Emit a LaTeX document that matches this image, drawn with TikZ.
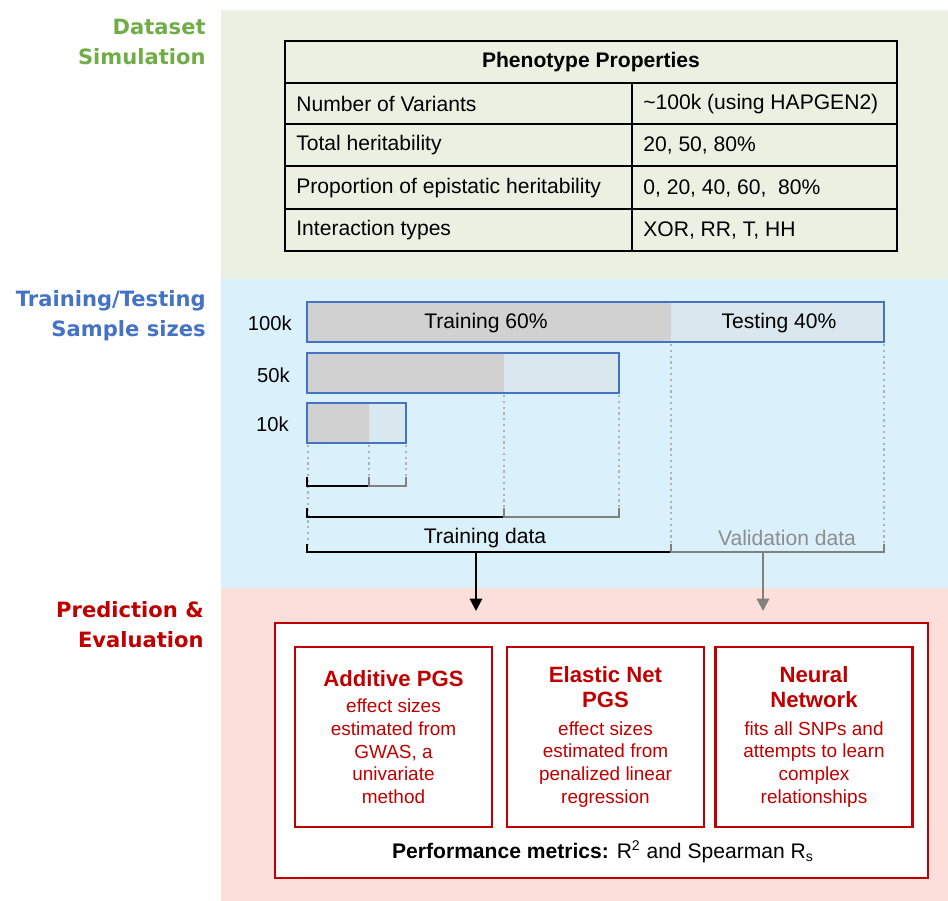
\documentclass[tikz,border=0pt]{standalone}
\usepackage{fontspec}
\setmainfont{Liberation Sans}
\newfontfamily\headfont{DejaVu Sans}
\usepackage{xcolor}
\usetikzlibrary{arrows.meta, positioning, calc}
\definecolor{simgreen}{HTML}{70AD47}
\definecolor{simbg}{HTML}{EBF1E2}
\definecolor{splitblue}{HTML}{4472C4}
\definecolor{splitbg}{HTML}{DAF1FB}
\definecolor{predred}{HTML}{C00000}
\definecolor{predbg}{HTML}{FCDEDA}
\definecolor{trainfill}{HTML}{D1D1D1}
\definecolor{testfill}{HTML}{D9E7EE}
\definecolor{valgray}{HTML}{808080}

\begin{document}
\begin{tikzpicture}[
            x=0.02cm, y=-0.02cm,
            heading/.style={anchor=east, inner sep=0pt, align=right, font=\headfont\bfseries\fontsize{12}{17}\selectfont},
            cell/.style={anchor=west, inner sep=0pt, font=\fontsize{12}{14}\selectfont},
            sizelabel/.style={anchor=east, inner sep=0pt, font=\fontsize{11.5}{14}\selectfont},
            barlabel/.style={font=\fontsize{12}{14}\selectfont},
            sizebar/.style={draw=splitblue, line width=1.6pt},
            guide/.style={draw=gray!60, dotted, line width=1.3pt},
            trainbrace/.style={draw=black, line width=1.2pt},
            valbrace/.style={draw=valgray, line width=1.2pt},
            method/.style={draw=predred, line width=1.4pt, fill=white, minimum width=3.94cm, minimum height=3.6cm, align=center, text=predred, font=\fontsize{10.8}{13}\selectfont},
            arrow/.style={-{Triangle[length=7pt, width=7pt]}, line width=1.2pt}
        ]
\useasboundingbox (0,0) rectangle (948,901);

% Panels
            \fill[simbg] (221,10) rectangle (948,279);
            \fill[splitbg] (221,279) rectangle (948,588);
            \fill[predbg] (221,588) rectangle (948,901);

% Headings
            \node[heading, text=simgreen] (simhead) at (206,42) {Dataset\\Simulation};
            \node[heading, text=splitblue] (splithead) at (206,316) {Training/Testing\\Sample sizes};
            \node[heading, text=predred] (predhead) at (204,625) {Prediction \&\\Evaluation};

% Phenotype table
            \draw[line width=1.2pt] (285,41) rectangle (897,251);
            \foreach \y in {83,124,166,209}
                \draw[line width=0.9pt] (285,\y) -- (897,\y);
            \draw[line width=0.9pt] (632,83) -- (632,251);
            \node[font=\bfseries\fontsize{12}{14}\selectfont] (phenohead) at (591,62) {Phenotype Properties};
            \node[cell] (nvar) at (296,104) {Number of Variants};
            \node[cell] (nvarval) at (643,104) {\textasciitilde100k (using HAPGEN2)};
            \node[cell] (totherit) at (296,145.5) {Total heritability};
            \node[cell] (totheritval) at (643,145.5) {20, 50, 80\%};
            \node[cell] (epiherit) at (296,188) {Proportion of epistatic heritability};
            \node[cell] (epiheritval) at (643,188) {0, 20, 40, 60,\ \ 80\%};
            \node[cell] (itypes) at (296,230.5) {Interaction types};
            \node[cell] (itypesval) at (643,230.5) {XOR, RR, T, HH};

% Sample size bars
            \foreach \top/\split/\right in {302/671/884, 353/504/619, 403/369/406} {
                \fill[trainfill] (307,\top) rectangle (\split,\top+40);
                \fill[testfill] (\split,\top) rectangle (\right,\top+40);
                \draw[sizebar] (307,\top) rectangle (\right,\top+40);
            }
            \node[barlabel] (train100) at (486,323) {Training 60\%};
            \node[barlabel] (test100) at (779,323) {Testing 40\%};
            \node[sizelabel] (lab100) at (292,323) {100k};
            \node[sizelabel] (lab50) at (290,375) {50k};
            \node[sizelabel] (lab10) at (289,424) {10k};

% Guides
            \draw[guide] (308,445) -- (308,544);
            \draw[guide] (369,445) -- (369,478);
            \draw[guide] (406,445) -- (406,478);
            \draw[guide] (504,395) -- (504,508);
            \draw[guide] (619,395) -- (619,508);
            \draw[guide] (671,344) -- (671,544);
            \draw[guide] (884,344) -- (884,544);

% Brackets
            \draw[trainbrace] (307,477) -- (307,486) -- (369,486);
            \draw[valbrace] (369,477) -- (369,486) -- (406,486) -- (406,477);
            \draw[trainbrace] (307,508) -- (307,517) -- (504,517);
            \draw[valbrace] (504,508) -- (504,517) -- (619,517) -- (619,508);
            \draw[trainbrace] (307,544) -- (307,552) -- (671,552);
            \draw[valbrace] (671,544) -- (671,552) -- (884,552) -- (884,544);
            \node[barlabel] (traindata) at (485,538) {Training data};
            \node[barlabel, text=valgray!90] (valdata) at (787,538) {Validation data};

% Arrows
            \coordinate (trainsrc) at (476,552);
            \coordinate (traintip) at (476,611);
            \coordinate (valsrc) at (763,552);
            \coordinate (valtip) at (763,611);
            \draw[arrow] (trainsrc) -- (traintip);
            \draw[arrow, valgray] (valsrc) -- (valtip);

% Prediction box
            \node[draw=predred, line width=1.4pt, fill=white, minimum width=13.06cm, minimum height=5.1cm] (predbox) at (601.5,750.5) {};
            \node[method] (additive) at (393.5,737) {{\bfseries\fontsize{12.6}{14}\selectfont Additive PGS}\\[2pt]effect sizes\\estimated from\\GWAS, a\\univariate\\method};
            \node[method] (elastic) at (605.5,737) {{\bfseries\fontsize{12.6}{14}\selectfont Elastic Net}\\[1pt]{\bfseries\fontsize{12.6}{14}\selectfont PGS}\\[3pt]effect sizes\\estimated from\\penalized linear\\regression};
            \node[method] (neural) at (814,737) {{\bfseries\fontsize{12.6}{14}\selectfont Neural}\\[1pt]{\bfseries\fontsize{12.6}{14}\selectfont Network}\\[3pt]fits all SNPs and\\attempts to learn\\complex\\relationships};
            \node[font=\fontsize{12}{14}\selectfont] (metrics) at (603,852) {\textbf{Performance metrics:} R\textsuperscript{2} and Spearman R\textsubscript{s}};

        \end{tikzpicture}
\end{document}
